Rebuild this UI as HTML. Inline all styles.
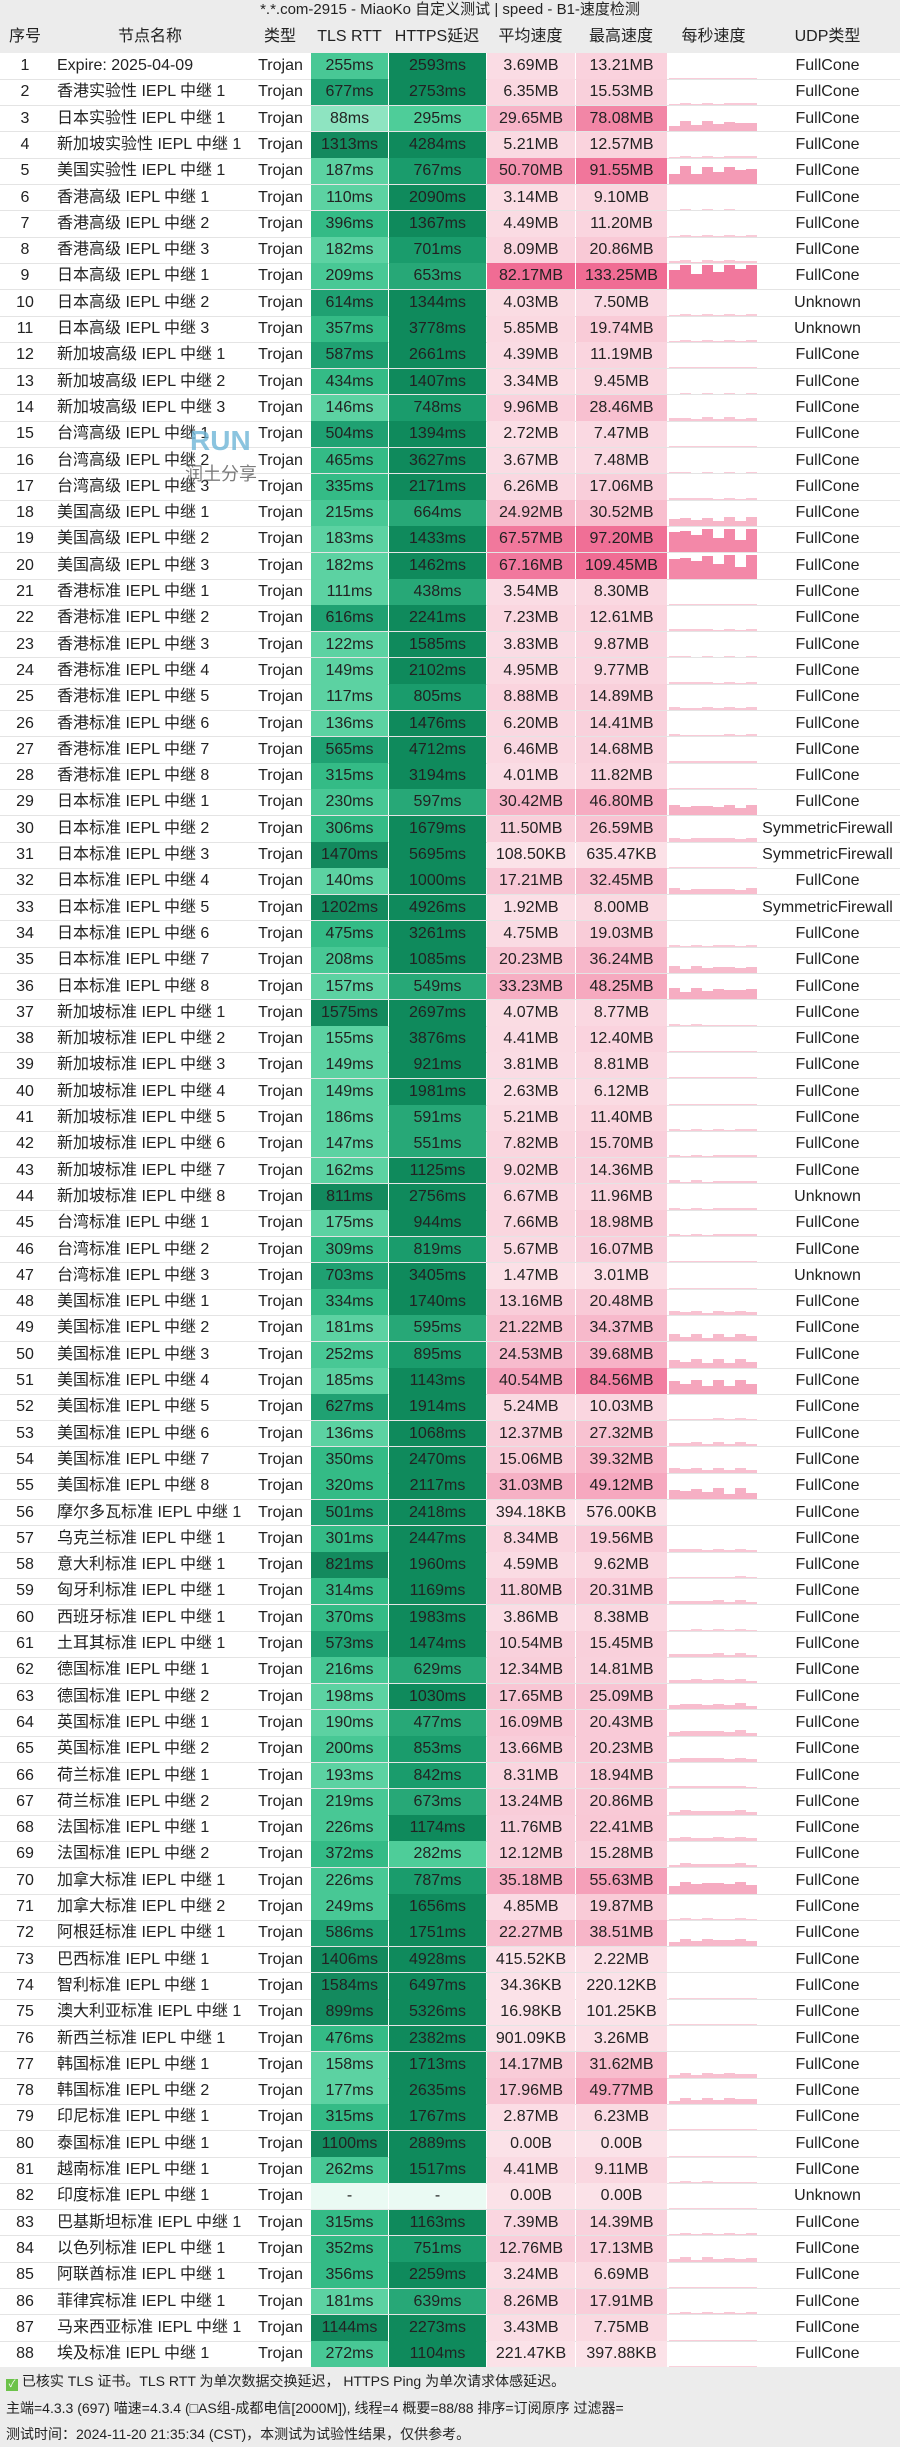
<!DOCTYPE html>
<html><head><meta charset="utf-8">
<style>
*{margin:0;padding:0;box-sizing:border-box}
body{width:900px;height:2447px;background:#fff;font-family:"Liberation Sans","Noto Sans CJK SC",sans-serif;color:#222;position:relative;overflow:hidden;font-size:16px}
.t{position:absolute;left:0;top:0;width:900px;height:20px;background:#ececec;text-align:center;font-size:15px;line-height:20px}
.h{position:absolute;left:0;top:20px;width:900px;height:33px;background:#ececec}
.c{position:absolute;height:26.3px;line-height:26px;text-align:center;white-space:nowrap}
.r{position:absolute;left:0;width:900px;height:1px;background:#e4e4e4}
.f{position:absolute;left:0;top:2367px;width:900px;height:80px;background:#ececec;font-size:14px}
.f div{position:absolute;left:6px}
</style></head><body>
<div class="t">*.*.com-2915 - MiaoKo 自定义测试 | speed - B1-速度检测</div>
<div class="h"></div>
<div id="g"></div>
<div class="f">
<div style="top:4px"><span style="display:inline-block;width:12px;height:12px;background:#6cc24a;color:#fff;font-size:10px;line-height:12px;text-align:center;vertical-align:-1px">✓</span> 已核实 TLS 证书。TLS RTT 为单次数据交换延迟， HTTPS Ping 为单次请求体感延迟。</div>
<div style="top:31px">主端=4.3.3 (697) 喵速=4.3.4 (□AS组-成都电信[2000M]), 线程=4 概要=88/88 排序=订阅原序 过滤器=</div>
<div style="top:57px">测试时间：2024-11-20 21:35:34 (CST)，本测试为试验性结果，仅供参考。</div>
</div>
<script>
const D=`Expire: 2025-04-09|255|2593|3.69MB|13.21MB|F
香港实验性 IEPL 中继 1|677|2753|6.35MB|15.53MB|F
日本实验性 IEPL 中继 1|88|295|29.65MB|78.08MB|F
新加坡实验性 IEPL 中继 1|1313|4284|5.21MB|12.57MB|F
美国实验性 IEPL 中继 1|187|767|50.70MB|91.55MB|F
香港高级 IEPL 中继 1|110|2090|3.14MB|9.10MB|F
香港高级 IEPL 中继 2|396|1367|4.49MB|11.20MB|F
香港高级 IEPL 中继 3|182|701|8.09MB|20.86MB|F
日本高级 IEPL 中继 1|209|653|82.17MB|133.25MB|F
日本高级 IEPL 中继 2|614|1344|4.03MB|7.50MB|U
日本高级 IEPL 中继 3|357|3778|5.85MB|19.74MB|U
新加坡高级 IEPL 中继 1|587|2661|4.39MB|11.19MB|F
新加坡高级 IEPL 中继 2|434|1407|3.34MB|9.45MB|F
新加坡高级 IEPL 中继 3|146|748|9.96MB|28.46MB|F
台湾高级 IEPL 中继 1|504|1394|2.72MB|7.47MB|F
台湾高级 IEPL 中继 2|465|3627|3.67MB|7.48MB|F
台湾高级 IEPL 中继 3|335|2171|6.26MB|17.06MB|F
美国高级 IEPL 中继 1|215|664|24.92MB|30.52MB|F
美国高级 IEPL 中继 2|183|1433|67.57MB|97.20MB|F
美国高级 IEPL 中继 3|182|1462|67.16MB|109.45MB|F
香港标准 IEPL 中继 1|111|438|3.54MB|8.30MB|F
香港标准 IEPL 中继 2|616|2241|7.23MB|12.61MB|F
香港标准 IEPL 中继 3|122|1585|3.83MB|9.87MB|F
香港标准 IEPL 中继 4|149|2102|4.95MB|9.77MB|F
香港标准 IEPL 中继 5|117|805|8.88MB|14.89MB|F
香港标准 IEPL 中继 6|136|1476|6.20MB|14.41MB|F
香港标准 IEPL 中继 7|565|4712|6.46MB|14.68MB|F
香港标准 IEPL 中继 8|315|3194|4.01MB|11.82MB|F
日本标准 IEPL 中继 1|230|597|30.42MB|46.80MB|F
日本标准 IEPL 中继 2|306|1679|11.50MB|26.59MB|S
日本标准 IEPL 中继 3|1470|5695|108.50KB|635.47KB|S
日本标准 IEPL 中继 4|140|1000|17.21MB|32.45MB|F
日本标准 IEPL 中继 5|1202|4926|1.92MB|8.00MB|S
日本标准 IEPL 中继 6|475|3261|4.75MB|19.03MB|F
日本标准 IEPL 中继 7|208|1085|20.23MB|36.24MB|F
日本标准 IEPL 中继 8|157|549|33.23MB|48.25MB|F
新加坡标准 IEPL 中继 1|1575|2697|4.07MB|8.77MB|F
新加坡标准 IEPL 中继 2|155|3876|4.41MB|12.40MB|F
新加坡标准 IEPL 中继 3|149|921|3.81MB|8.81MB|F
新加坡标准 IEPL 中继 4|149|1981|2.63MB|6.12MB|F
新加坡标准 IEPL 中继 5|186|591|5.21MB|11.40MB|F
新加坡标准 IEPL 中继 6|147|551|7.82MB|15.70MB|F
新加坡标准 IEPL 中继 7|162|1125|9.02MB|14.36MB|F
新加坡标准 IEPL 中继 8|811|2756|6.67MB|11.96MB|U
台湾标准 IEPL 中继 1|175|944|7.66MB|18.98MB|F
台湾标准 IEPL 中继 2|309|819|5.67MB|16.07MB|F
台湾标准 IEPL 中继 3|703|3405|1.47MB|3.01MB|U
美国标准 IEPL 中继 1|334|1740|13.16MB|20.48MB|F
美国标准 IEPL 中继 2|181|595|21.22MB|34.37MB|F
美国标准 IEPL 中继 3|252|895|24.53MB|39.68MB|F
美国标准 IEPL 中继 4|185|1143|40.54MB|84.56MB|F
美国标准 IEPL 中继 5|627|1914|5.24MB|10.03MB|F
美国标准 IEPL 中继 6|136|1068|12.37MB|27.32MB|F
美国标准 IEPL 中继 7|350|2470|15.06MB|39.32MB|F
美国标准 IEPL 中继 8|320|2117|31.03MB|49.12MB|F
摩尔多瓦标准 IEPL 中继 1|501|2418|394.18KB|576.00KB|F
乌克兰标准 IEPL 中继 1|301|2447|8.34MB|19.56MB|F
意大利标准 IEPL 中继 1|821|1960|4.59MB|9.62MB|F
匈牙利标准 IEPL 中继 1|314|1169|11.80MB|20.31MB|F
西班牙标准 IEPL 中继 1|370|1983|3.86MB|8.38MB|F
土耳其标准 IEPL 中继 1|573|1474|10.54MB|15.45MB|F
德国标准 IEPL 中继 1|216|629|12.34MB|14.81MB|F
德国标准 IEPL 中继 2|198|1030|17.65MB|25.09MB|F
英国标准 IEPL 中继 1|190|477|16.09MB|20.43MB|F
英国标准 IEPL 中继 2|200|853|13.66MB|20.23MB|F
荷兰标准 IEPL 中继 1|193|842|8.31MB|18.94MB|F
荷兰标准 IEPL 中继 2|219|673|13.24MB|20.86MB|F
法国标准 IEPL 中继 1|226|1174|11.76MB|22.41MB|F
法国标准 IEPL 中继 2|372|282|12.12MB|15.28MB|F
加拿大标准 IEPL 中继 1|226|787|35.18MB|55.63MB|F
加拿大标准 IEPL 中继 2|249|1656|4.85MB|19.87MB|F
阿根廷标准 IEPL 中继 1|586|1751|22.27MB|38.51MB|F
巴西标准 IEPL 中继 1|1406|4928|415.52KB|2.22MB|F
智利标准 IEPL 中继 1|1584|6497|34.36KB|220.12KB|F
澳大利亚标准 IEPL 中继 1|899|5326|16.98KB|101.25KB|F
新西兰标准 IEPL 中继 1|476|2382|901.09KB|3.26MB|F
韩国标准 IEPL 中继 1|158|1713|14.17MB|31.62MB|F
韩国标准 IEPL 中继 2|177|2635|17.96MB|49.77MB|F
印尼标准 IEPL 中继 1|315|1767|2.87MB|6.23MB|F
泰国标准 IEPL 中继 1|1100|2889|0.00B|0.00B|F
越南标准 IEPL 中继 1|262|1517|4.41MB|9.11MB|F
印度标准 IEPL 中继 1|-|-|0.00B|0.00B|U
巴基斯坦标准 IEPL 中继 1|315|1163|7.39MB|14.39MB|F
以色列标准 IEPL 中继 1|352|751|12.76MB|17.13MB|F
阿联酋标准 IEPL 中继 1|356|2259|3.24MB|6.69MB|F
菲律宾标准 IEPL 中继 1|181|639|8.26MB|17.91MB|F
马来西亚标准 IEPL 中继 1|1144|2273|3.43MB|7.75MB|F
埃及标准 IEPL 中继 1|272|1104|221.47KB|397.88KB|F`.split('\n');
const U={F:'FullCone',U:'Unknown',S:'SymmetricFirewall'};
function mb(s){let v=parseFloat(s);if(s.endsWith('KB'))v/=1024;else if(/[^KM]B$/.test(s))v=0;return v}
function tls(v){if(isNaN(v))return'#eafaf3';return v<100?'#8ee4c1':v<200?'#5cd2a2':v<300?'#48c895':v<500?'#34bb86':v<800?'#1fa172':'#138a5e'}
function http(v){if(isNaN(v))return'#eafaf3';return v<320?'#4ecd99':v<700?'#27a877':v<900?'#1a9c6c':'#0f8a5c'}
function mix(t){t=Math.max(0,Math.min(1,t));const a=[251,226,232],b=[240,108,148];return`rgb(${a.map((x,i)=>Math.round(x+(b[i]-x)*t)).join(',')})`}
let h='';
const hd=[['序号',0,50],['节点名称',50,200],['类型',250,60],['TLS RTT',311,77],['HTTPS延迟',388,98],['平均速度',486,89],['最高速度',575,92],['每秒速度',667,93],['UDP类型',760,135]];
hd.forEach(c=>h+=`<div class="c" style="top:24px;left:${c[1]}px;width:${c[2]}px">${c[0]}</div>`);
const RH=26.3,T0=53;
D.forEach((l,i)=>{const p=l.split('|');const y=T0+i*RH;const tv=parseInt(p[1]),hv=parseInt(p[2]);const a=mb(p[3]),m=mb(p[4]);
h+=`<div class="c" style="top:${y}px;left:0;width:50px">${i+1}</div>`;
h+=`<div class="c" style="top:${y}px;left:57px;text-align:left">${p[0]}</div>`;
h+=`<div class="c" style="top:${y}px;left:250px;width:61px">Trojan</div>`;
h+=`<div class="c" style="top:${y}px;left:311px;width:77px;background:${tls(tv)}">${isNaN(tv)?'-':tv+'ms'}</div>`;
h+=`<div class="c" style="top:${y}px;left:389px;width:97px;background:${http(hv)}">${isNaN(hv)?'-':hv+'ms'}</div>`;
h+=`<div class="c" style="top:${y}px;left:487px;width:88px;background:${mix(a/75)}">${p[3]}</div>`;
h+=`<div class="c" style="top:${y}px;left:576px;width:91px;background:${mix(m/100)}">${p[4]}</div>`;
let bars='';for(let k=0;k<8;k++){const r=0.5+0.5*Math.abs(Math.sin(i*3.1+k*1.7));const hh=Math.min(24,Math.max(1,a/82*24*r*1.2));bars+=`<div style="position:absolute;bottom:0;left:${k*11}px;width:11px;height:${hh}px;background:${mix(0.15+a/110)}"></div>`}
h+=`<div style="position:absolute;top:${y+1}px;left:669px;width:90px;height:25px;overflow:hidden">${bars}</div>`;
h+=`<div class="c" style="top:${y}px;left:760px;width:135px">${U[p[5]]}</div>`;
h+=`<div class="r" style="top:${y+RH-0.5}px"></div>`;
});
h+=`<div style="position:absolute;left:190px;top:425px;font-size:28px;font-weight:bold;color:#6fb6d8;opacity:.8">RUN</div><div style="position:absolute;left:185px;top:460px;font-size:18px;color:#444;opacity:.7">润土分享</div>`;
document.getElementById('g').innerHTML=h;
</script>
</body></html>
